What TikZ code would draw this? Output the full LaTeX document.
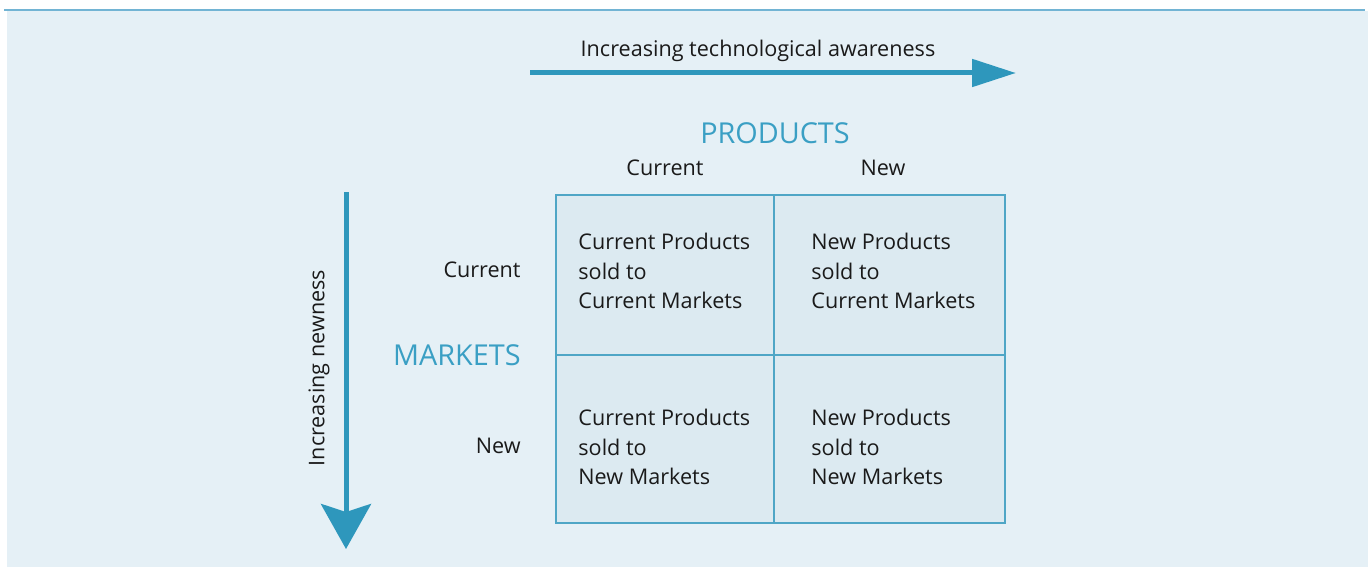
\documentclass[tikz,border=0pt]{standalone}
\usepackage{fontspec}
\setmainfont{Open Sans}
\usetikzlibrary{arrows.meta}
\definecolor{bgc}{HTML}{E5F0F6}
\definecolor{cellc}{HTML}{DCEAF1}
\definecolor{gridc}{HTML}{4FA6C6}
\definecolor{arrc}{HTML}{2E97BC}
\definecolor{topc}{HTML}{72B4D4}
\definecolor{txt}{HTML}{1A1A1A}
\definecolor{headc}{HTML}{3A9FC4}
\tikzset{
  lbl/.style={font=\fontsize{10.8}{12}\selectfont, text=txt, inner sep=0pt},
  head/.style={font=\fontsize{14.4}{16}\selectfont, text=headc, inner sep=0pt},
  celltxt/.style={font=\fontsize{10.8}{14.6}\selectfont, text=txt, align=left, inner sep=0pt, anchor=west},
  cellbox/.style={draw=gridc, fill=cellc, line width=0.75pt},
  bigarrow/.style={draw=arrc, line width=2.5pt}
}
\begin{document}
\begin{tikzpicture}[x=0.5pt,y=-0.5pt]
\useasboundingbox (0,0) rectangle (1371,567);
\fill[bgc] (7,11) rectangle (1368,567);
\draw[topc, line width=1.2pt] (4,10) -- (1365,10);
% grid
\path[cellbox] (556,195) rectangle (774,355);
\path[cellbox] (774,195) rectangle (1005,355);
\path[cellbox] (556,355) rectangle (774,523);
\path[cellbox] (774,355) rectangle (1005,523);
% arrows
\coordinate (h1) at (530,73);
\coordinate (h2) at (1016,73);
\draw[bigarrow, -{Triangle[length=22pt,width=13.5pt]}] (h1) -- (h2);
\coordinate (v1) at (346,192);
\coordinate (v2) at (346,549);
\draw[bigarrow, -{Stealth[length=22.5pt,width=25pt,inset=4pt]}] (v1) -- (v2);
% labels
\node[lbl] (tech) at (758,51) {Increasing technological awareness};
\node[head] (prod) at (775,133) {PRODUCTS};
\node[lbl] (pc) at (665,168) {Current};
\node[lbl] (pn) at (883,168) {New};
\node[lbl, anchor=east] (mc) at (521,270) {Current};
\node[lbl, anchor=east] (mn) at (521,446) {New};
\node[head, anchor=east] (mk) at (521,355) {MARKETS};
\node[lbl, rotate=90] (newness) at (319,368) {Increasing newness};
% cells
\node[celltxt] (c11) at (578,271) {Current Products\\sold to\\Current Markets};
\node[celltxt] (c12) at (811,271) {New Products\\sold to\\Current Markets};
\node[celltxt] (c21) at (578,447) {Current Products\\sold to\\New Markets};
\node[celltxt] (c22) at (811,447) {New Products\\sold to\\New Markets};
\end{tikzpicture}
\end{document}
